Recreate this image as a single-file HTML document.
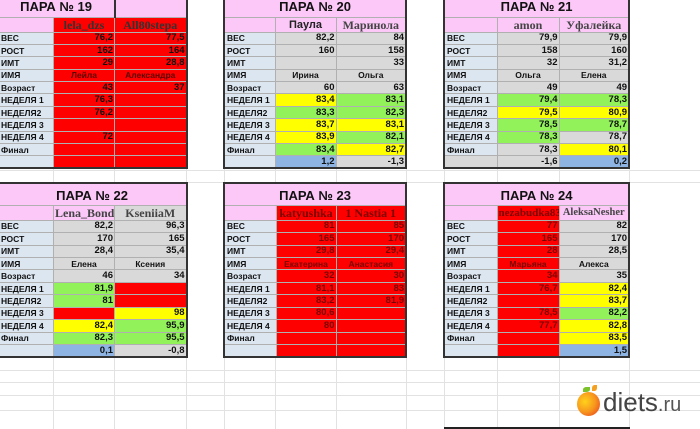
<!DOCTYPE html>
<html><head><meta charset="utf-8"><style>
body{margin:0;width:700px;height:429px;background:#fff;position:relative;overflow:hidden;font-family:"Liberation Sans","DejaVu Sans",sans-serif;}
.g{position:absolute;background:#e2e2e2}
table{position:absolute;border-collapse:collapse;table-layout:fixed;border:2px solid #333;}
tr{height:12.4px}
td{padding:0 1px;font-size:9.5px;font-weight:bold;color:#111;border:1px solid #b0b0b0;overflow:hidden;white-space:nowrap;text-align:right;line-height:10px}
td.l{background:#dce6f1;text-align:left;font-size:8.5px;padding-left:2px}
td.t{background:#fbc8f8;text-align:center;font-size:13px;border:none}
td.h{background:#fbc8f8;text-align:center;font-family:"Liberation Serif",serif;font-size:12px;color:#444}
td.c{text-align:center;font-size:8.5px}
td.R{background:#ff0000}td.Y{background:#ffff00}td.G{background:#92f25a}td.S{background:#d9d9d9}td.B{background:#8db4e2}
td.dr{color:#7a0000}
td.v{border-left:1.5px solid #333}
</style></head><body>
<div class="g" style="left:53px;top:0;width:1px;height:429px"></div>
<div class="g" style="left:114px;top:0;width:1px;height:429px"></div>
<div class="g" style="left:186px;top:0;width:1px;height:429px"></div>
<div class="g" style="left:224px;top:0;width:1px;height:429px"></div>
<div class="g" style="left:275px;top:0;width:1px;height:429px"></div>
<div class="g" style="left:336px;top:0;width:1px;height:429px"></div>
<div class="g" style="left:406px;top:0;width:1px;height:429px"></div>
<div class="g" style="left:444px;top:0;width:1px;height:429px"></div>
<div class="g" style="left:497px;top:0;width:1px;height:429px"></div>
<div class="g" style="left:559px;top:0;width:1px;height:429px"></div>
<div class="g" style="left:629px;top:0;width:1px;height:429px"></div>
<div class="g" style="left:0;top:170px;width:700px;height:1px"></div>
<div class="g" style="left:0;top:182px;width:700px;height:1px"></div>
<div class="g" style="left:0;top:370px;width:700px;height:1px"></div>
<div class="g" style="left:0;top:382px;width:700px;height:1px"></div>
<div class="g" style="left:0;top:395px;width:700px;height:1px"></div>
<div class="g" style="left:0;top:410px;width:700px;height:1px"></div>

<!-- 19 -->
<table style="left:-2px;top:-2px;width:188px;height:171px;border-top:none;border-left:none">
<colgroup><col style="width:55px"><col style="width:61px"><col style="width:72px"></colgroup>
<tr style="height:19px"><td class="t" colspan="2" style="border-right:2px solid #333">ПАРА № 19</td><td class="t" style="border-right:2px solid #333"></td></tr>
<tr style="height:15px"><td class="h"></td><td class="h R" style="color:#333">lela_dzs</td><td class="h R v" style="color:#333">All80stepa</td></tr>
<tr><td class="l">ВЕС</td><td class="R">76,2</td><td class="R v">77,5</td></tr>
<tr><td class="l">РОСТ</td><td class="R">162</td><td class="R v">164</td></tr>
<tr><td class="l">ИМТ</td><td class="R">29</td><td class="R v">28,8</td></tr>
<tr><td class="l">ИМЯ</td><td class="R c" style="color:#5a0000">Лейла</td><td class="R c v" style="color:#5a0000">Александра</td></tr>
<tr><td class="l">Возраст</td><td class="R">43</td><td class="R v">37</td></tr>
<tr><td class="l">НЕДЕЛЯ 1</td><td class="R">76,3</td><td class="R v"></td></tr>
<tr><td class="l">НЕДЕЛЯ2</td><td class="R">76,2</td><td class="R v"></td></tr>
<tr><td class="l">НЕДЕЛЯ 3</td><td class="R"></td><td class="R v"></td></tr>
<tr><td class="l">НЕДЕЛЯ 4</td><td class="R">72</td><td class="R v"></td></tr>
<tr><td class="l">Финал</td><td class="R"></td><td class="R v"></td></tr>
<tr><td class="l"></td><td class="R"></td><td class="R v"></td></tr>
</table>

<!-- 20 -->
<table style="left:223px;top:-2px;width:184px;height:171px;border-top:none">
<colgroup><col style="width:51px"><col style="width:61px"><col style="width:70px"></colgroup>
<tr style="height:19px"><td class="t" colspan="3">ПАРА № 20</td></tr>
<tr style="height:15px"><td class="h"></td><td class="h" style="font-family:'Liberation Sans',sans-serif;font-size:11px;color:#222">Паула</td><td class="h">Маринола</td></tr>
<tr><td class="l">ВЕС</td><td class="S">82,2</td><td class="S v">84</td></tr>
<tr><td class="l">РОСТ</td><td class="S">160</td><td class="S v">158</td></tr>
<tr><td class="l">ИМТ</td><td class="S"></td><td class="S v">33</td></tr>
<tr><td class="l">ИМЯ</td><td class="S c">Ирина</td><td class="S c v">Ольга</td></tr>
<tr><td class="l">Возраст</td><td class="S">60</td><td class="S v">63</td></tr>
<tr><td class="l">НЕДЕЛЯ 1</td><td class="Y">83,4</td><td class="G v">83,1</td></tr>
<tr><td class="l">НЕДЕЛЯ2</td><td class="G">83,3</td><td class="G v">82,3</td></tr>
<tr><td class="l">НЕДЕЛЯ 3</td><td class="Y">83,7</td><td class="Y v">83,1</td></tr>
<tr><td class="l">НЕДЕЛЯ 4</td><td class="Y">83,9</td><td class="G v">82,1</td></tr>
<tr><td class="l">Финал</td><td class="G">83,4</td><td class="Y v">82,7</td></tr>
<tr><td class="l"></td><td class="B">1,2</td><td class="S v">-1,3</td></tr>
</table>

<!-- 21 -->
<table style="left:443px;top:-2px;width:187px;height:171px;border-top:none">
<colgroup><col style="width:53px"><col style="width:62px"><col style="width:70px"></colgroup>
<tr style="height:19px"><td class="t" colspan="3">ПАРА № 21</td></tr>
<tr style="height:15px"><td class="h"></td><td class="h">amon</td><td class="h">Уфалейка</td></tr>
<tr><td class="l">ВЕС</td><td class="S">79,9</td><td class="S v">79,9</td></tr>
<tr><td class="l">РОСТ</td><td class="S">158</td><td class="S v">160</td></tr>
<tr><td class="l">ИМТ</td><td class="S">32</td><td class="S v">31,2</td></tr>
<tr><td class="l">ИМЯ</td><td class="S c">Ольга</td><td class="S c v">Елена</td></tr>
<tr><td class="l">Возраст</td><td class="S">49</td><td class="S v">49</td></tr>
<tr><td class="l">НЕДЕЛЯ 1</td><td class="G">79,4</td><td class="G v">78,3</td></tr>
<tr><td class="l">НЕДЕЛЯ2</td><td class="Y">79,5</td><td class="Y v">80,9</td></tr>
<tr><td class="l">НЕДЕЛЯ 3</td><td class="G">78,5</td><td class="G v">78,7</td></tr>
<tr><td class="l">НЕДЕЛЯ 4</td><td class="G">78,3</td><td class="S v">78,7</td></tr>
<tr><td class="l">Финал</td><td class="S">78,3</td><td class="Y v">80,1</td></tr>
<tr><td class="S"></td><td class="S">-1,6</td><td class="B v">0,2</td></tr>
</table>

<!-- 22 -->
<table style="left:-2px;top:182px;width:188px;height:176px;border-left:none">
<colgroup><col style="width:55px"><col style="width:61px"><col style="width:72px"></colgroup>
<tr style="height:22px"><td class="t" colspan="3" style="padding-top:4px">ПАРА № 22</td></tr>
<tr style="height:15px"><td class="h"></td><td class="h">Lena_Bond</td><td class="h S">KseniiaM</td></tr>
<tr><td class="l">ВЕС</td><td class="S">82,2</td><td class="S v">96,3</td></tr>
<tr><td class="l">РОСТ</td><td class="S">170</td><td class="S v">165</td></tr>
<tr><td class="l">ИМТ</td><td class="S">28,4</td><td class="S v">35,4</td></tr>
<tr><td class="l">ИМЯ</td><td class="S c">Елена</td><td class="S c v">Ксения</td></tr>
<tr><td class="l">Возраст</td><td class="S">46</td><td class="S v">34</td></tr>
<tr><td class="l">НЕДЕЛЯ 1</td><td class="G">81,9</td><td class="R v"></td></tr>
<tr><td class="l">НЕДЕЛЯ2</td><td class="G">81</td><td class="R v"></td></tr>
<tr><td class="l">НЕДЕЛЯ 3</td><td class="R"></td><td class="Y v">98</td></tr>
<tr><td class="l">НЕДЕЛЯ 4</td><td class="Y">82,4</td><td class="G v">95,9</td></tr>
<tr><td class="l">Финал</td><td class="G">82,3</td><td class="G v">95,5</td></tr>
<tr><td class="l"></td><td class="B">0,1</td><td class="S v">-0,8</td></tr>
</table>

<!-- 23 -->
<table style="left:223px;top:182px;width:184px;height:176px">
<colgroup><col style="width:52px"><col style="width:60px"><col style="width:70px"></colgroup>
<tr style="height:22px"><td class="t" colspan="3" style="padding-top:4px">ПАРА № 23</td></tr>
<tr style="height:15px"><td class="h"></td><td class="h R dr">katyushka</td><td class="h R dr">1 Nastia 1</td></tr>
<tr><td class="l">ВЕС</td><td class="R dr">81</td><td class="R v dr">85</td></tr>
<tr><td class="l">РОСТ</td><td class="R dr">165</td><td class="R v dr">170</td></tr>
<tr><td class="l">ИМТ</td><td class="R dr">29,8</td><td class="R v dr">29,4</td></tr>
<tr><td class="l">ИМЯ</td><td class="R c dr">Екатерина</td><td class="R c v dr">Анастасия</td></tr>
<tr><td class="l">Возраст</td><td class="R dr">32</td><td class="R v dr">30</td></tr>
<tr><td class="l">НЕДЕЛЯ 1</td><td class="R dr">81,1</td><td class="R v dr">83</td></tr>
<tr><td class="l">НЕДЕЛЯ2</td><td class="R dr">83,2</td><td class="R v dr">81,9</td></tr>
<tr><td class="l">НЕДЕЛЯ 3</td><td class="R dr">80,6</td><td class="R v"></td></tr>
<tr><td class="l">НЕДЕЛЯ 4</td><td class="R dr">80</td><td class="R v"></td></tr>
<tr><td class="l">Финал</td><td class="R"></td><td class="R v"></td></tr>
<tr><td class="l"></td><td class="R"></td><td class="R v"></td></tr>
</table>

<!-- 24 -->
<table style="left:443px;top:182px;width:187px;height:176px">
<colgroup><col style="width:53px"><col style="width:62px"><col style="width:70px"></colgroup>
<tr style="height:22px"><td class="t" colspan="3" style="padding-top:4px">ПАРА № 24</td></tr>
<tr style="height:15px"><td class="h"></td><td class="h R dr" style="font-size:11px">nezabudka83</td><td class="h" style="font-size:10.5px">AleksaNesher</td></tr>
<tr><td class="l">ВЕС</td><td class="R dr">77</td><td class="S v">82</td></tr>
<tr><td class="l">РОСТ</td><td class="R dr">165</td><td class="S v">170</td></tr>
<tr><td class="l">ИМТ</td><td class="R dr">28</td><td class="S v">28,5</td></tr>
<tr><td class="l">ИМЯ</td><td class="R c dr">Марьяна</td><td class="S c v">Алекса</td></tr>
<tr><td class="l">Возраст</td><td class="R dr">34</td><td class="S v">35</td></tr>
<tr><td class="l">НЕДЕЛЯ 1</td><td class="R dr">76,7</td><td class="Y v">82,4</td></tr>
<tr><td class="l">НЕДЕЛЯ2</td><td class="R"></td><td class="Y v">83,7</td></tr>
<tr><td class="l">НЕДЕЛЯ 3</td><td class="R dr">78,5</td><td class="G v">82,2</td></tr>
<tr><td class="l">НЕДЕЛЯ 4</td><td class="R dr">77,7</td><td class="Y v">82,8</td></tr>
<tr><td class="l">Финал</td><td class="R"></td><td class="Y v">83,5</td></tr>
<tr><td class="l"></td><td class="R"></td><td class="B v">1,5</td></tr>
</table>

<!-- logo -->
<div style="position:absolute;left:577px;top:392px;width:23px;height:24px;border-radius:50%;background:radial-gradient(circle at 35% 40%,#ffd21a,#f7961e 50%,#e8321c)"></div>
<div style="position:absolute;left:583px;top:387px;width:7px;height:5px;background:#7cc22a;border-radius:50% 0"></div>
<div style="position:absolute;left:592px;top:385px;width:5px;height:6px;background:#f4a020;border-radius:50% 0"></div>
<div style="position:absolute;left:603px;top:388px;font-size:26px;color:#444;line-height:28px;font-family:'Liberation Sans',sans-serif">diets<span style="font-size:20px;color:#555">.ru</span></div>
<div style="position:absolute;left:444px;top:427px;width:186px;height:2px;background:#222"></div>
</body></html>
